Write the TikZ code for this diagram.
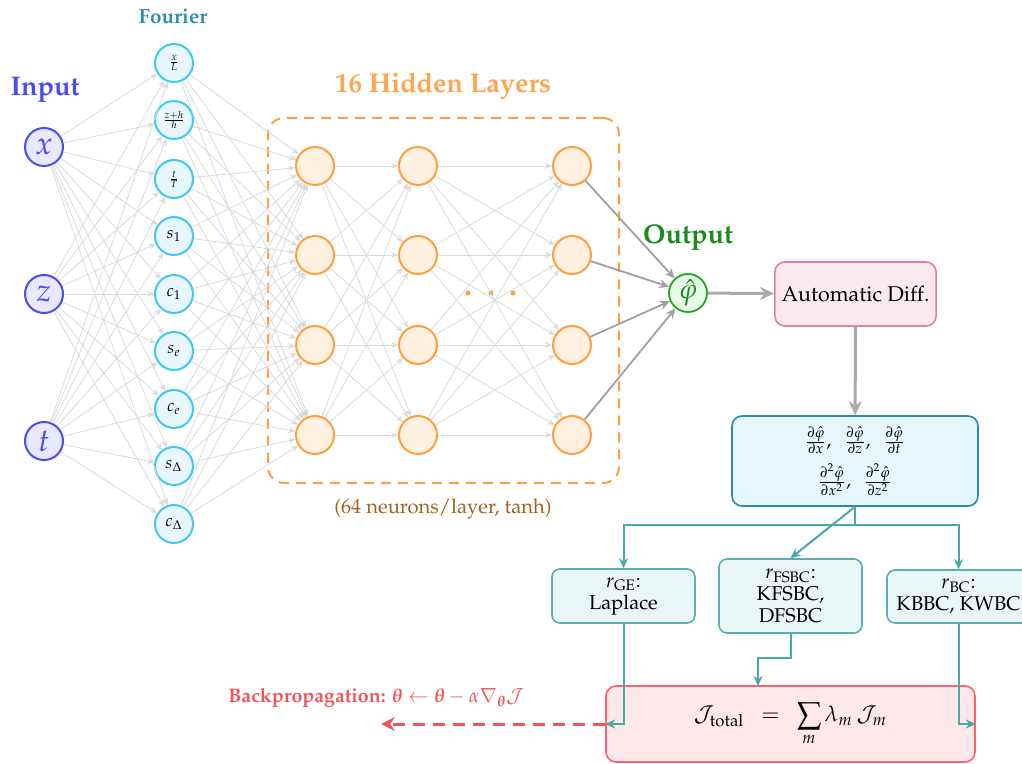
\documentclass[tikz,border=0pt]{standalone}
\usepackage[T1]{fontenc}
\usepackage{mathpazo}
\usepackage{amsmath}
\usetikzlibrary{arrows.meta,calc}
\definecolor{inblue}{HTML}{4B4BF0}
\definecolor{infill}{HTML}{E8E8FF}
\definecolor{fourtitle}{HTML}{2A8FA8}
\definecolor{fourline}{HTML}{40C8F0}
\definecolor{fourfill}{HTML}{E8F7FD}
\definecolor{hidline}{HTML}{FFA040}
\definecolor{hidfill}{HTML}{FFF0E0}
\definecolor{hidtitle}{HTML}{FFA550}
\definecolor{outgreen}{HTML}{1A8A1A}
\definecolor{outline}{HTML}{20A820}
\definecolor{outfill}{HTML}{E8FAE8}
\definecolor{adline}{HTML}{E07FA0}
\definecolor{adfill}{HTML}{FCE9F0}
\definecolor{dline}{HTML}{2E8AB0}
\definecolor{dfill}{HTML}{E6F6FD}
\definecolor{rline}{HTML}{5AAFB0}
\definecolor{rfill}{HTML}{EAF5F5}
\definecolor{tealarrow}{HTML}{4AA8A8}
\definecolor{totline}{HTML}{FF6070}
\definecolor{totfill}{HTML}{FFE8EA}
\definecolor{bpred}{HTML}{F05558}
\definecolor{brownt}{HTML}{A0621C}
\definecolor{lightedge}{HTML}{DADADA}
\definecolor{darkedge}{HTML}{A0A0A0}
\begin{document}
\begin{tikzpicture}[x=0.5pt,y=-0.5pt,
  innode/.style={circle,draw=inblue,fill=infill,line width=1pt,minimum size=19pt,inner sep=0pt,font=\fontsize{16}{18}\selectfont,text=inblue},
  fnode/.style={circle,draw=fourline,fill=fourfill,line width=1pt,minimum size=19pt,inner sep=0pt,font=\fontsize{8.5}{9}\selectfont},
  hnode/.style={circle,draw=hidline,fill=hidfill,line width=1pt,minimum size=19pt,inner sep=0pt},
  onode/.style={circle,draw=outline,fill=outfill,line width=0.9pt,minimum size=19pt,inner sep=0pt,font=\fontsize{14}{16}\selectfont,text=outgreen},
  title/.style={font=\bfseries\fontsize{13.5}{16}\selectfont},
  lightarrow/.style={draw=lightedge,line width=0.4pt,-{Stealth[length=3.5pt,width=3pt]}},
  darkarrow/.style={draw=darkedge,line width=0.9pt,-{Stealth[length=5pt,width=4.5pt]}},
  rbox/.style={draw=rline,fill=rfill,line width=0.8pt,rounded corners=4pt,minimum width=71.5pt,align=center,font=\fontsize{10}{11}\selectfont,inner sep=1pt},
  tealarr/.style={draw=tealarrow,line width=1pt,-{Stealth[length=5pt,width=4.5pt]}},
]
\useasboundingbox (0,0) rectangle (1022,764);

% titles
\node[title,text=inblue] (tin) at (45,90) {Input};
\node[font=\bfseries\fontsize{10.3}{12}\selectfont,text=fourtitle] (tfour) at (173,16) {Fourier};
\node[title,text=hidtitle] (thid) at (443,86) {16 Hidden Layers};
\node[title,text=outgreen] (tout) at (688,238) {Output};
\node[font=\fontsize{10.1}{12}\selectfont,text=brownt] (tneur) at (443,509) {(64 neurons/layer, tanh)};

% hidden box
\node[draw=hidline,line width=1pt,dash pattern=on 5pt off 3.5pt,rounded corners=8pt,minimum width=175.5pt,minimum height=182.5pt] (hbox) at (443.5,300.5) {};

% input nodes
\node[innode] (in1) at (44,147) {$x$};
\node[innode] (in2) at (44,294) {$z$};
\node[innode] (in3) at (44,441) {$t$};

% fourier nodes
\node[fnode,font=\fontsize{7}{8}\selectfont] (f1) at (174,63) {$\frac{x}{L}$};
\node[fnode,font=\fontsize{7}{8}\selectfont] (f2) at (174,120) {$\frac{z+h}{h}$};
\node[fnode,font=\fontsize{7}{8}\selectfont] (f3) at (174,179) {$\frac{t}{T}$};
\node[fnode] (f4) at (174,236) {$s_1$};
\node[fnode] (f5) at (174,294) {$c_1$};
\node[fnode] (f6) at (174,351) {$s_e$};
\node[fnode] (f7) at (174,409) {$c_e$};
\node[fnode] (f8) at (174,466) {$s_\Delta$};
\node[fnode] (f9) at (174,524) {$c_\Delta$};

% hidden nodes
\foreach \c/\x in {1/315,2/418,3/572}
  \foreach \r/\y in {1/166,2/255,3/345,4/435}
    \node[hnode] (h\c\r) at (\x,\y) {};

% dots
\foreach \x [count=\k] in {468,491,513}
  \node[circle,fill=hidline,inner sep=0pt,minimum size=2.5pt] (dot\k) at (\x,293) {};

% output
\node[onode] (out) at (688,293) {$\hat{\varphi}$};

% boxes
\node[draw=adline,fill=adfill,line width=0.8pt,rounded corners=5pt,minimum width=78.5pt,minimum height=32pt,font=\fontsize{10.7}{12}\selectfont] (ad) at (855.5,294) {Automatic Diff.};
\node[draw=dline,fill=dfill,line width=0.8pt,rounded corners=5pt,minimum width=123pt,minimum height=45pt,align=center,font=\fontsize{9.5}{11}\selectfont] (der) at (855,461)
  {$\frac{\partial\hat{\varphi}}{\partial x},\ \ \frac{\partial\hat{\varphi}}{\partial z},\ \ \frac{\partial\hat{\varphi}}{\partial t}$\\[4pt]
   $\frac{\partial^2\hat{\varphi}}{\partial x^2},\ \ \frac{\partial^2\hat{\varphi}}{\partial z^2}$};
\node[rbox,minimum height=27pt] (rge) at (623.5,596) {$r_{\text{GE}}$:\\Laplace};
\node[rbox,minimum height=37pt] (rfs) at (790.5,596) {$r_{\text{FSBC}}$:\\KFSBC,\\DFSBC};
\node[rbox,minimum height=26.5pt] (rbc) at (958.5,596.5) {$r_{\text{BC}}$:\\KBBC, KWBC};
\node[draw=totline,fill=totfill,line width=0.8pt,rounded corners=5pt,minimum width=184.5pt,minimum height=38pt,font=\fontsize{11}{13}\selectfont] (tot) at (790.5,724)
  {$\mathcal{J}_{\text{total}}\ \ =\ \ \displaystyle\sum_{m}\lambda_m\,\mathcal{J}_m$};

% edges input -> fourier
\foreach \i in {1,2,3}
  \foreach \j in {1,...,9}
    \draw[lightarrow] (in\i) -- (f\j);
% fourier -> hidden 1
\foreach \j in {1,...,9}
  \foreach \r in {1,...,4}
    \draw[lightarrow] (f\j) -- (h1\r);
% hidden -> hidden
\foreach \a in {1,...,4}
  \foreach \b in {1,...,4}{
    \draw[lightarrow] (h1\a) -- (h2\b);
    \draw[lightarrow] (h2\a) -- (h3\b);
  }
% hidden 3 -> output
\foreach \r in {1,...,4}
  \draw[darkarrow] (h3\r) -- (out);

\draw[draw=darkedge!90,line width=1.5pt,-{Stealth[length=7pt,width=6.5pt]}] (out) -- (ad);
\draw[draw=darkedge!90,line width=1.5pt,-{Stealth[length=7pt,width=6.5pt]}] (ad) -- (der);

% teal connectors
\coordinate (split) at (855,525);
\draw[tealarr] (der.south) -- (split) -| (rge.north);
\draw[tealarr] (split) -| (rbc.north);
\draw[tealarr] (der.south) -- (rfs.north);
\coordinate (fsin) at (758,686);
\draw[tealarr] (rfs.south) -- ++(0,24) -| (fsin);
\draw[tealarr] (rge.south) |- (tot.west);
\draw[tealarr] (rbc.south) |- (tot.east);

% backprop
\coordinate (bpend) at (381,724);
\draw[draw=bpred,line width=1.5pt,dash pattern=on 6pt off 4pt,-{Stealth[length=7pt,width=7pt,inset=2.5pt]}] (tot.west) -- (bpend);
\node[text=bpred,font=\bfseries\fontsize{9.8}{11}\selectfont,anchor=west,inner sep=0pt] (bplab) at (228,698) {Backpropagation: $\boldsymbol{\theta}\leftarrow\boldsymbol{\theta}-\alpha\nabla_{\boldsymbol{\theta}}\mathcal{J}$};
\end{tikzpicture}
\end{document}
